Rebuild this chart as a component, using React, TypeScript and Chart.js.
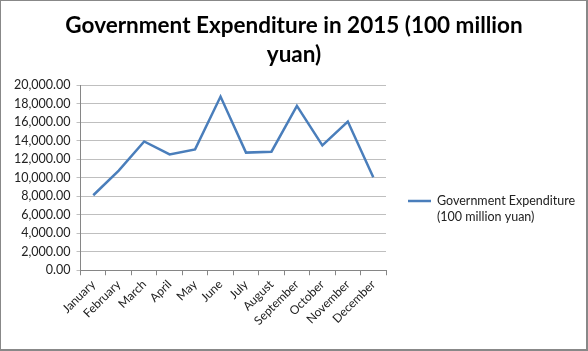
import React, { useEffect, useRef } from "react";
import { Chart, registerables } from "chart.js";

Chart.register(...registerables);

const months = ["January", "February", "March", "April", "May", "June", "July", "August", "September", "October", "November", "December"];
const expenditure = [8100, 10750, 13900, 12500, 13050, 18750, 12700, 12800, 17750, 13480, 16050, 10050];
const titleLines = ["Government Expenditure in 2015 (100 million", "yuan)"];
const legendLines = ["Government Expenditure", "(100 million yuan)"];
const yTicks = { min: 0, max: 20000, step: 2000 };

const FONT = "Lato, 'Open Sans', sans-serif";
const LINE_COLOR = "#4a7ebb";

const decorPlugin = {
  id: "decor",
  afterDraw(chart: any) {
    const { ctx, chartArea, width } = chart;
    ctx.save();
    ctx.fillStyle = "#000";
    ctx.font = `bold 22.5px ${FONT}`;
    ctx.textAlign = "center";
    ctx.textBaseline = "middle";
    titleLines.forEach((t, i) => ctx.fillText(t, width / 2 + 1, 26 + i * 29));
    const x0 = chartArea.right + 22;
    const y0 = chartArea.top + 116;
    ctx.strokeStyle = LINE_COLOR;
    ctx.lineWidth = 2.5;
    ctx.beginPath();
    ctx.moveTo(x0, y0);
    ctx.lineTo(x0 + 23, y0);
    ctx.stroke();
    ctx.fillStyle = "#222";
    ctx.font = `12.5px ${FONT}`;
    ctx.textAlign = "left";
    legendLines.forEach((t, i) => ctx.fillText(t, x0 + 29, y0 + i * 16));
    ctx.restore();
  },
};

export default function App() {
  const ref = useRef<HTMLCanvasElement>(null);
  useEffect(() => {
    let chart: Chart | null = null;
    let cancelled = false;
    const build = () => {
      if (cancelled || !ref.current) return;
      chart = new Chart(ref.current, {
        type: "line",
        data: {
          labels: months,
          datasets: [
            {
              label: legendLines.join(" "),
              data: expenditure,
              borderColor: LINE_COLOR,
              backgroundColor: LINE_COLOR,
              borderWidth: 2.5,
              pointRadius: 0,
              tension: 0,
            },
          ],
        },
        options: {
          responsive: false,
          animation: false,
          layout: { padding: { left: 8, right: 200, top: 85, bottom: 19 } },
          plugins: {
            legend: { display: false },
            tooltip: { enabled: false },
            title: { display: false },
          },
          scales: {
            x: {
              offset: true,
              grid: { offset: true, drawOnChartArea: false, drawTicks: true, tickLength: 5, color: "#868686" },
              border: { display: true, color: "#868686" },
              ticks: { maxRotation: 45, minRotation: 45, autoSkip: false, color: "#222", font: { family: FONT, size: 12 }, padding: 2 },
            },
            y: {
              min: yTicks.min,
              max: yTicks.max,
              grid: { color: "#bfbfbf", tickLength: 4, drawTicks: true },
              border: { display: true, color: "#868686" },
              ticks: {
                stepSize: yTicks.step,
                color: "#222",
                font: { family: FONT, size: 12.5 },
                padding: 6,
                callback: (v: any) => Number(v).toLocaleString("en-US", { minimumFractionDigits: 2, maximumFractionDigits: 2 }),
              },
            },
          },
        },
        plugins: [decorPlugin],
      });
    };
    const fonts = (document as any).fonts;
    if (fonts && fonts.load) {
      Promise.all([fonts.load("bold 22px Lato"), fonts.load("12px Lato")]).then(build, build);
    } else build();
    return () => {
      cancelled = true;
      if (chart) chart.destroy();
    };
  }, []);
  return (
    <div style={{ position: "fixed", left: 0, top: 0, width: 588, height: 351, background: "#fff" }}>
      <canvas ref={ref} width={586} height={349} style={{ position: "absolute", left: 0, top: 0 }} />
      <div style={{ position: "absolute", left: 0, top: 0, width: 588, height: 351, boxSizing: "border-box", borderTop: "1px solid #888", borderLeft: "1px solid #888", borderRight: "2px solid #888", borderBottom: "2px solid #888", pointerEvents: "none" }} />
    </div>
  );
}
